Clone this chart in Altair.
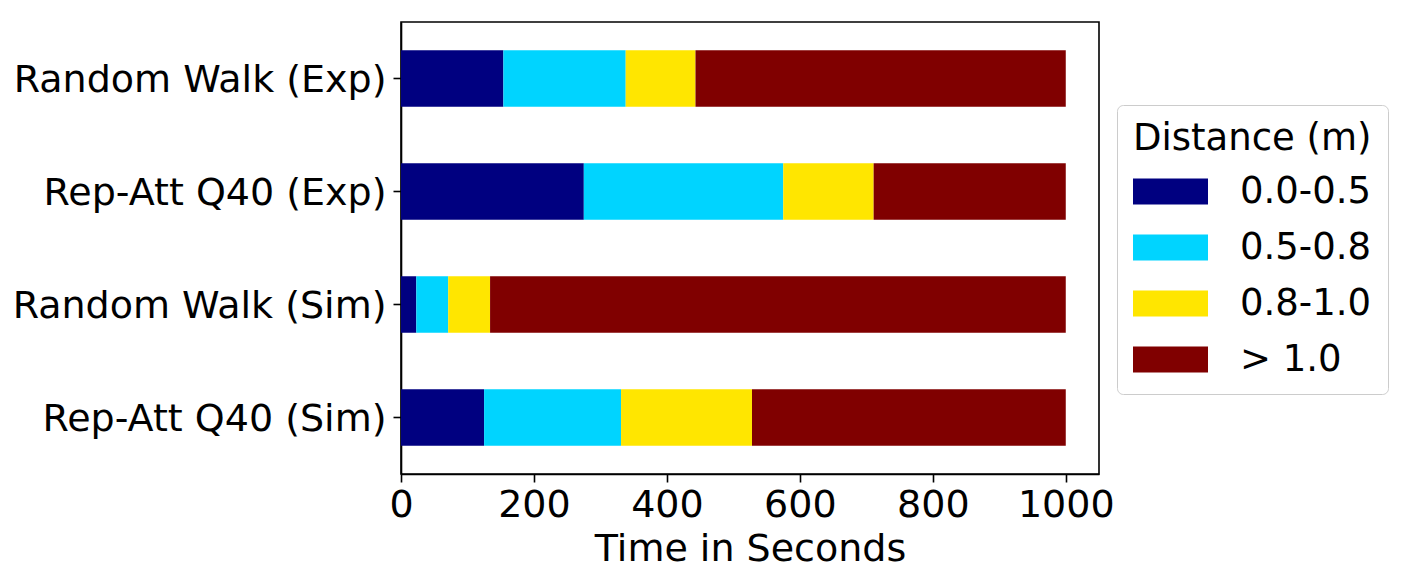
import altair as alt
import pandas as pd

categories = ["Random Walk (Exp)", "Rep-Att Q40 (Exp)", "Random Walk (Sim)", "Rep-Att Q40 (Sim)"]
ranges = ["0.0-0.5", "0.5-0.8", "0.8-1.0", "> 1.0"]
t_00_05 = [154, 275, 23, 125]
t_05_08 = [184, 300, 48, 206]
t_08_10 = [105, 136, 63, 197]
t_gt_10 = [557, 289, 866, 472]
colors = ["#000080", "#00d4ff", "#ffe600", "#800000"]
x_ticks = [0, 200, 400, 600, 800, 1000]

series = [t_00_05, t_05_08, t_08_10, t_gt_10]
rows = []
for ri, (rng, vals) in enumerate(zip(ranges, series)):
    for cat, v in zip(categories, vals):
        rows.append({"category": cat, "range": rng, "time": v, "order": ri})
df = pd.DataFrame(rows)

FONT = "DejaVu Sans"
FS = 38
LFS = 37

chart = alt.Chart(df).mark_bar(stroke=None).encode(
    y=alt.Y("category:N", sort=categories,
            scale=alt.Scale(paddingInner=0.5, paddingOuter=0.25),
            axis=alt.Axis(title=None, labelFontSize=FS, labelFont=FONT, labelColor="black",
                          tickColor="black", tickSize=8, tickWidth=1.6, labelPadding=7,
                          labelOffset=2,
                          domainColor="black", domainWidth=1.6, labelLimit=0)),
    x=alt.X("time:Q", stack="zero",
            scale=alt.Scale(domain=[0, 1050], nice=False, zero=True),
            axis=alt.Axis(title="Time in Seconds", values=x_ticks, grid=False, format="d",
                          labelFontSize=FS, labelFont=FONT, labelColor="black",
                          titleFontSize=FS, titleFont=FONT, titleFontWeight="normal",
                          titleColor="black", titlePadding=6,
                          tickColor="black", tickSize=8, tickWidth=1.6, labelPadding=4,
                          domainColor="black", domainWidth=1.6, labelFlush=False)),
    color=alt.Color("range:N", sort=ranges,
                    scale=alt.Scale(domain=ranges, range=colors),
                    legend=alt.Legend(title="Distance (m)", orient="none",
                                      legendX=716, legendY=83,
                                      titleFontSize=LFS, titleFont=FONT, titleFontWeight="normal",
                                      titleColor="black", titlePadding=-4, titleLimit=0,
                                      labelFontSize=LFS, labelFont=FONT, labelColor="black",
                                      labelOffset=32, labelLimit=0,
                                      symbolType="M-1,-0.347L1,-0.347L1,0.347L-1,0.347Z",
                                      symbolSize=5625, symbolStrokeWidth=0, symbolOpacity=1,
                                      rowPadding=0, padding=16,
                                      fillColor="white", strokeColor="#cccccc",
                                      cornerRadius=6)),
    order=alt.Order("order:Q"),
).properties(
    width=698, height=452,
    autosize=alt.AutoSizeParams(type="none"),
    padding={"left": 401, "top": 22, "right": 306, "bottom": 112},
).configure(
    background="white"
).configure_view(
    stroke="black", strokeWidth=1.6
)

chart.save("out.html", embed_options={"renderer": "svg", "actions": False})
